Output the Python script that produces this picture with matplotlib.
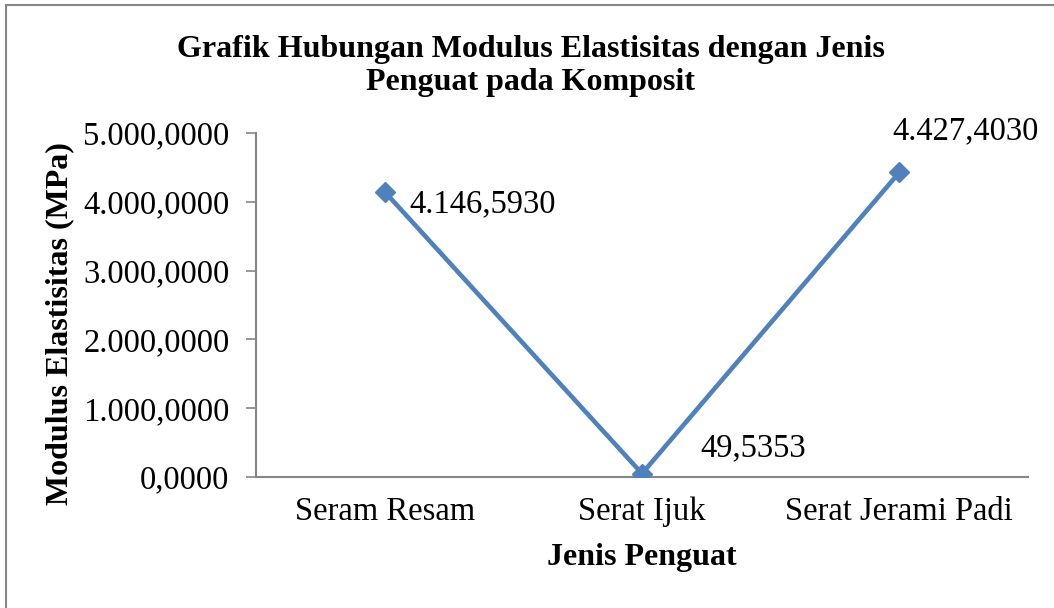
import matplotlib.pyplot as plt
from matplotlib.patches import Rectangle

# Datos
categorias = ['Seram Resam', 'Serat Ijuk', 'Serat Jerami Padi']
modulus = [4146.593, 49.5353, 4427.403]
label_teks = ['4.146,5930', '49,5353', '4.427,4030']
y_ticks = [0, 1000, 2000, 3000, 4000, 5000]
y_tick_labels = ['0,0000', '1.000,0000', '2.000,0000', '3.000,0000', '4.000,0000', '5.000,0000']

plt.rcParams['font.family'] = ['Liberation Serif', 'DejaVu Serif']

fig = plt.figure(figsize=(10.54, 6.08), dpi=100)
ax = fig.add_axes([256 / 1054, 1 - 477 / 608, (1028 - 256) / 1054, (477 - 133) / 608])

x = list(range(len(categorias)))
ax.plot(x, modulus, color='#4F81BD', linewidth=3.3, marker='D', markersize=10,
        markeredgecolor='#4F81BD', solid_capstyle='butt', zorder=3)

# Label data (posisi manual seperti Excel)
offsets = [(25, -12), (58, 26), (-7, 41)]
for xi, yi, t, off in zip(x, modulus, label_teks, offsets):
    ax.annotate(t, (xi, yi), xytext=off, textcoords='offset pixels',
                ha='left', va='center', fontsize=23.5, color='black')

ax.set_xlim(-0.5, 2.5)
ax.set_ylim(0, 5000)
ax.set_xticks(x)
ax.set_xticklabels(categorias, fontsize=23.5)
ax.set_yticks(y_ticks)
ax.set_yticklabels(y_tick_labels, fontsize=23.5)
ax.tick_params(axis='x', length=0, pad=14)
ax.tick_params(axis='y', length=7, width=1.2, color='#868686', pad=12)

for side in ['top', 'right']:
    ax.spines[side].set_visible(False)
for side in ['left', 'bottom']:
    ax.spines[side].set_color('#868686')
    ax.spines[side].set_linewidth(1.5)

fig.text(531 / 1054, 1 - 66 / 608,
         'Grafik Hubungan Modulus Elastisitas dengan Jenis\nPenguat pada Komposit',
         ha='center', va='center', fontsize=23, fontweight='bold', linespacing=1.15)
fig.text(642 / 1054, 1 - 558 / 608, 'Jenis Penguat', ha='center', va='center',
         fontsize=23, fontweight='bold')
fig.text(60 / 1054, 1 - 324 / 608, 'Modulus Elastisitas (MPa)', ha='center', va='center',
         rotation=90, fontsize=23, fontweight='bold')

# Bingkai chart
fig.patches.append(Rectangle((6 / 1054, -0.05), 1.1, 1 - 5 / 608 + 0.05,
                             transform=fig.transFigure, fill=False,
                             edgecolor='#868686', linewidth=1.5))

fig.savefig('out.png', dpi=100)
